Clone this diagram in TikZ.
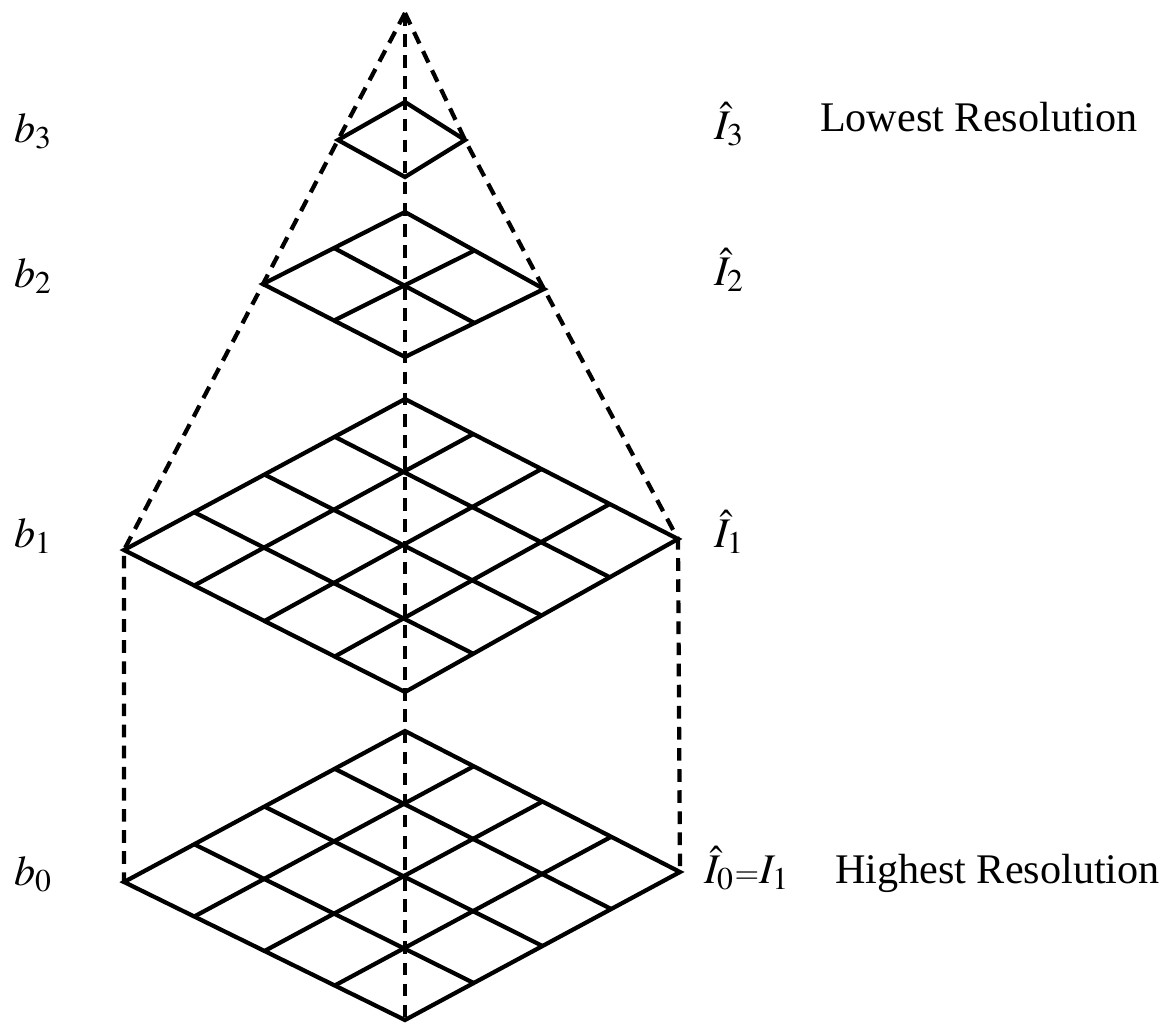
\documentclass[tikz,border=0pt]{standalone}
\usepackage{mathptmx}
\usepackage{fontspec}
\setmainfont{Liberation Serif}
\DeclareMathSizes{12}{12}{9}{7}
\usetikzlibrary{calc}

\begin{document}
\begin{tikzpicture}[x=0.01cm, y=-0.01cm, line width=1.2pt,
    dashline/.style={dash pattern=on 3.6pt off 2.4pt},
    lbl/.style={inner sep=0pt, anchor=base west, font=\fontsize{12pt}{14pt}\selectfont}]
    \useasboundingbox (0, 0) rectangle (1169, 1023);

    \coordinate (O) at (405, 13);
    % level 3
    \coordinate (t3) at (405, 102);
    \coordinate (l3) at (338, 140);
    \coordinate (r3) at (465, 140);
    \coordinate (d3) at (405, 177);
    % level 2
    \coordinate (t2) at (405, 212);
    \coordinate (l2) at (263, 284);
    \coordinate (r2) at (544, 289);
    \coordinate (d2) at (405, 357);
    % level 1
    \coordinate (t1) at (405, 399);
    \coordinate (l1) at (124, 550);
    \coordinate (r1) at (678, 539);
    \coordinate (d1) at (405, 692);
    % level 0
    \coordinate (t0) at (405, 731);
    \coordinate (l0) at (124, 882);
    \coordinate (r0) at (680, 872);
    \coordinate (d0) at (405, 1020);

    \draw [dashline] (O) -- (l3) -- (l2) -- (l1) -- (l0);
    \draw [dashline] (O) -- (r3) -- (r2) -- (r1) -- (r0);

    \draw (t3) -- (r3) -- (d3) -- (l3) -- cycle;
    \draw (t2) -- (r2) -- (d2) -- (l2) -- cycle;
    \draw ($(t2)!0.5!(r2)$) -- ($(l2)!0.5!(d2)$);
    \draw ($(t2)!0.5!(l2)$) -- ($(r2)!0.5!(d2)$);
    \draw (t1) -- (r1) -- (d1) -- (l1) -- cycle;
    \draw (t0) -- (r0) -- (d0) -- (l0) -- cycle;
    \foreach \i in {1,2,3} {
        \draw ($(t1)!\i/4!(r1)$) -- ($(l1)!\i/4!(d1)$);
        \draw ($(t1)!\i/4!(l1)$) -- ($(r1)!\i/4!(d1)$);
        \draw ($(t0)!\i/4!(r0)$) -- ($(l0)!\i/4!(d0)$);
        \draw ($(t0)!\i/4!(l0)$) -- ($(r0)!\i/4!(d0)$);
    }
    \draw [dashline] (O) -- (d0);

    \node[lbl] (b3) at (12, 142) {$b_3$};
    \node[lbl] (b2) at (12, 287) {$b_2$};
    \node[lbl] (b1) at (12, 547) {$b_1$};
    \node[lbl] (b0) at (12, 885) {$b_0$};
    \node[lbl] (I3) at (712, 139) {$\hat{I}_3$};
    \node[lbl] (I2) at (712, 285) {$\hat{I}_2$};
    \node[lbl] (I1) at (712, 547) {$\hat{I}_1$};
    \node[lbl] (I0) at (702, 883) {$\hat{I}_0{\scriptstyle =}I_1$};
    \node[lbl] (low) at (818, 131) {Lowest Resolution};
    \node[lbl] (high) at (833, 883) {Highest Resolution};
\end{tikzpicture}
\end{document}
